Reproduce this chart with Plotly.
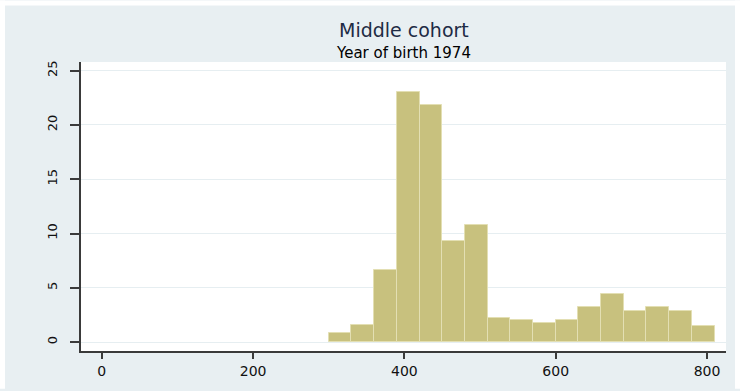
import plotly.graph_objects as go

# Histogram of the middle cohort (year of birth 1974): percent of cases per bin
bin_edges = [300, 330, 360, 390, 420, 450, 480, 510, 540, 570,
             600, 630, 660, 690, 720, 750, 780, 810]
percent = [0.86, 1.56, 6.63, 23.02, 21.86, 9.34, 10.78, 2.23, 2.02,
           1.78, 2.02, 3.21, 4.40, 2.87, 3.21, 2.87, 1.44]

x_ticks = [0, 200, 400, 600, 800]
y_ticks = [0, 5, 10, 15, 20, 25]

title_text = "Middle cohort"
subtitle_text = "Year of birth 1974"

# figure geometry (pixels)
W, H = 740, 391
M_L, M_R, M_T, M_B = 81, 14, 62, 38
plot_w = W - M_L - M_R
plot_h = H - M_T - M_B


def px_to_paper_x(px):
    return (px - M_L) / plot_w


def px_to_paper_y(py):
    return (H - M_B - py) / plot_h


FONT = "DejaVu Sans"
BAR_FILL = "#c8c17e"
BAR_EDGE = "#e3dfb3"
REGION = "#e8eff2"
AXIS = "#3a3a3a"
GRID = "#e6eef1"
TEXT = "#111111"

lefts = bin_edges[:-1]
widths = [b - a for a, b in zip(bin_edges[:-1], bin_edges[1:])]

fig = go.Figure(
    go.Bar(
        x=lefts,
        y=percent,
        width=widths,
        offset=0,
        marker=dict(color=BAR_FILL, line=dict(color=BAR_EDGE, width=1)),
        hovertemplate="%{x}: %{y:.2f}%<extra></extra>",
    )
)

# thin white border around the shaded graph region
white_strips = [
    (0, W, 0, 5),        # top
    (0, 5, 0, H),        # left
    (735, W, 0, H),      # right
]
shapes = []
for x0, x1, y0, y1 in white_strips:
    shapes.append(dict(
        type="rect", xref="paper", yref="paper",
        x0=px_to_paper_x(x0), x1=px_to_paper_x(x1),
        y0=px_to_paper_y(y1), y1=px_to_paper_y(y0),
        fillcolor="white", line=dict(width=0), layer="below",
    ))

fig.update_layout(
    width=W, height=H, autosize=False,
    margin=dict(l=M_L, r=M_R, t=M_T, b=M_B, pad=0),
    paper_bgcolor=REGION,
    plot_bgcolor="white",
    showlegend=False,
    bargap=0,
    font=dict(family=FONT, color=TEXT),
    shapes=shapes,
    annotations=[
        dict(text=title_text, x=0.5, xref="paper", y=px_to_paper_y(30),
             yref="paper", xanchor="center", yanchor="middle",
             showarrow=False, font=dict(family=FONT, size=19, color="#1e2b45")),
        dict(text=subtitle_text, x=0.5, xref="paper", y=px_to_paper_y(53),
             yref="paper", xanchor="center", yanchor="middle",
             showarrow=False, font=dict(family=FONT, size=15, color="#000000")),
    ],
)

fig.update_xaxes(
    range=[-27.5, 825.1],
    tickvals=x_ticks,
    ticktext=[str(v) for v in x_ticks],
    ticks="outside", ticklen=6, tickwidth=1.5, tickcolor=AXIS,
    showline=True, linecolor=AXIS, linewidth=1.5,
    showgrid=False, zeroline=False,
    tickfont=dict(family=FONT, size=14, color=TEXT),
)

fig.update_yaxes(
    range=[-0.824, 25.8],
    tickvals=y_ticks,
    ticktext=[str(v) for v in y_ticks],
    tickangle=-90,
    ticks="outside", ticklen=9, tickwidth=1.5, tickcolor=AXIS,
    ticklabelstandoff=8,
    showline=True, linecolor=AXIS, linewidth=1.5,
    showgrid=True, gridcolor=GRID, gridwidth=1.2,
    zeroline=False,
    tickfont=dict(family=FONT, size=13, color=TEXT),
)

fig.write_html("out.html")
